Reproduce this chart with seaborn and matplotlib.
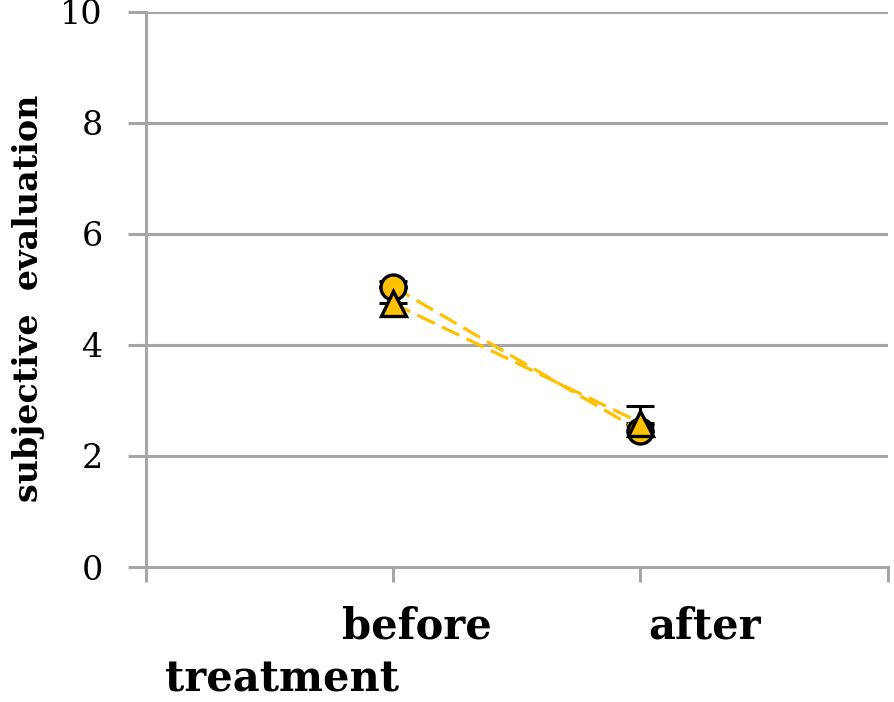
import numpy as np
import pandas as pd
import seaborn as sns
import matplotlib.pyplot as plt

# data
phases = ["before", "after"]
group_a_mean = [5.05, 2.45]   # circles
group_a_err = [0.1, 0.1]      # upper error only
group_b_mean = [4.75, 2.6]    # triangles
group_b_err = [0.3, 0.3]

gold = "#FFC000"
grey = "#a6a6a6"

sns.set_style("white")
plt.rcParams["font.family"] = ["DejaVu Serif"]
plt.rcParams["text.color"] = "black"
plt.rcParams["xtick.color"] = "black"
plt.rcParams["ytick.color"] = "black"

df = pd.DataFrame({
    "pos": [0, 1, 0, 1],
    "value": group_a_mean + group_b_mean,
    "group": ["A", "A", "B", "B"],
})

fig = plt.figure(figsize=(8.94, 7.02), dpi=100)
ax = fig.add_axes([0.163, 0.1923, 0.83, 0.7907])

# plus-direction error bars, drawn under the markers
for means, errs in [(group_a_mean, group_a_err), (group_b_mean, group_b_err)]:
    ax.errorbar([0, 1], means, yerr=[[0, 0], errs], fmt="none", ecolor="black",
                elinewidth=2.2, capsize=10, capthick=2.2, zorder=3)

sns.lineplot(data=df, x="pos", y="value", hue="group", style="group",
             palette=[gold, gold], markers=["o", "^"], dashes=[(6, 2.5), (6, 2.5)],
             markersize=18, markeredgecolor="black", markeredgewidth=2.4,
             linewidth=2.3, legend=False, ax=ax, zorder=4)

ax.set_xlim(-1, 2)
ax.set_ylim(0, 10)
ax.set_yticks([0, 2, 4, 6, 8, 10])
ax.set_xticks([-1, 0, 1, 2])
ax.set_xticklabels([])
# category labels sit a bit right of their ticks in the original
label_dx = [24, 64]
for i, (name, dx) in enumerate(zip(phases, label_dx)):
    ax.annotate(name, xy=(i, 0), xycoords=("data", "axes fraction"),
                xytext=(dx, -38), textcoords="offset pixels", ha="center",
                va="top", fontsize=30, fontweight="bold", annotation_clip=False)

ax.yaxis.grid(True, color=grey, linewidth=2.2)
ax.xaxis.grid(False)
for side in ["top", "right"]:
    ax.spines[side].set_visible(False)
for side in ["left", "bottom"]:
    ax.spines[side].set_color(grey)
    ax.spines[side].set_linewidth(2.2)
ax.tick_params(axis="y", left=True, direction="out", length=13, width=2.2,
               color=grey, labelcolor="black", labelsize=24, pad=18)
ax.tick_params(axis="x", bottom=True, direction="out", length=11, width=2.2,
               color=grey)
ax.set_xlabel("")
ax.set_ylabel("")

fig.text(0.032, 0.575, "subjective  evaluation", rotation=90, ha="center",
         va="center", fontsize=24, fontweight="bold", color="black")
fig.text(0.185, 0.002, "treatment", ha="left", va="bottom", fontsize=30,
         fontweight="bold", color="black")

fig.savefig("out.png", dpi=100)
